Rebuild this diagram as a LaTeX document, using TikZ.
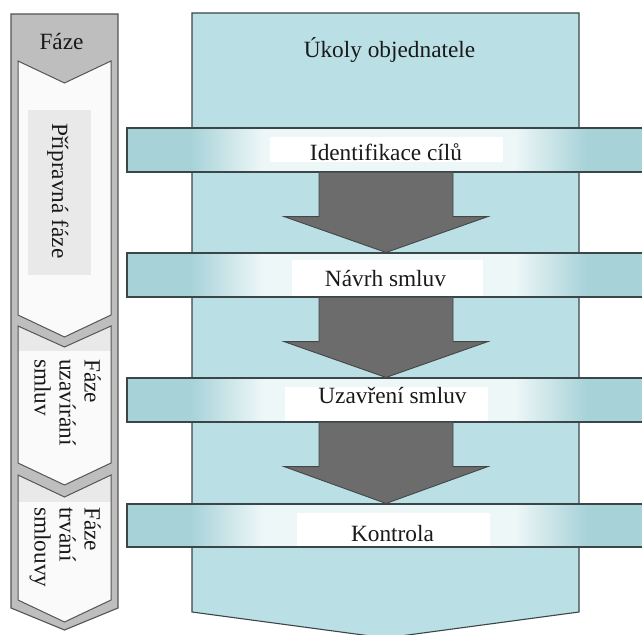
\documentclass[tikz,border=0pt]{standalone}
\usepackage{fontspec}
\setmainfont{Liberation Serif}
\usetikzlibrary{calc}
\definecolor{colfill}{RGB}{186,223,228}
\definecolor{bandteal}{RGB}{166,210,216}
\definecolor{bandlight}{RGB}{238,247,248}
\definecolor{edgecol}{RGB}{58,70,72}
\definecolor{arrfill}{RGB}{108,108,108}
\definecolor{arredge}{RGB}{70,70,70}
\definecolor{leftgray}{RGB}{190,190,190}
\definecolor{paneledge}{RGB}{85,85,85}
\definecolor{panelfill}{RGB}{250,250,250}
\definecolor{panelshade}{RGB}{233,233,233}
\definecolor{textcol}{RGB}{25,25,25}
\pgfdeclarehorizontalshading{bandshade}{100bp}{color(0bp)=(bandteal); color(31bp)=(bandteal); color(38bp)=(bandlight); color(62bp)=(bandlight); color(69bp)=(bandteal); color(100bp)=(bandteal)}
\newcommand\flowarrow[2]{%
  \draw[garrow] ($(#1.south)+(-69.5,0)$) -- ($(#1.south)+(-69.5,44)$) -- ($(#1.south)+(-104.5,44)$)
    -- ($(#2.north)+(-2.5,0)$) -- ($(#1.south)+(99.5,44)$) -- ($(#1.south)+(64.5,44)$) -- ($(#1.south)+(64.5,0)$);}
\begin{document}
\begin{tikzpicture}[x=1pt,y=-1pt,
  txt/.style={font=\fontsize{23.3}{25}\selectfont, text=textcol, inner sep=0pt},
  band/.style={draw=edgecol, line width=1.1pt, shade, shading=bandshade, minimum width=523pt, minimum height=44pt, inner sep=0pt},
  garrow/.style={fill=arrfill, draw=arredge, line width=0.9pt, line join=miter},
  colshape/.style={fill=colfill, draw=edgecol, line width=1.1pt},
  outershape/.style={fill=leftgray, draw=paneledge, line width=1.1pt},
  panel/.style={fill=panelfill, draw=paneledge, line width=1pt}
]
\useasboundingbox (0,0) rectangle (642,634);
\fill[white] (0,0) rectangle (642,634);

% main column
\draw[colshape] (192,13) -- (579,13) -- (579,612) -- (385.5,638) -- (192,612) -- cycle;
\node[txt, anchor=base] (hdr) at (389.5,57) {Úkoly objednatele};

% bands
\node[band] (b1) at (388.5,150) {};
\node[band] (b2) at (388.5,275) {};
\node[band] (b3) at (388.5,400) {};
\node[band, minimum height=43pt] (b4) at (388.5,525.5) {};

% white text boxes
\fill[white] (270,137) rectangle (503,162);
\fill[white] (292,260) rectangle (483,296);
\fill[white] (285,387) rectangle (488,421);
\fill[white] (297,513) rectangle (490,546);

\node[txt, anchor=base] (t1) at (386,160) {Identifikace cílů};
\node[txt, anchor=base] (t2) at (385.5,286) {Návrh smluv};
\node[txt, anchor=base] (t3) at (392.5,403) {Uzavření smluv};
\node[txt, anchor=base] (t4) at (392.5,541) {Kontrola};

% arrows
\flowarrow{b1}{b2}
\flowarrow{b2}{b3}
\flowarrow{b3}{b4}

% left column
\draw[outershape] (11,14) -- (118,14) -- (118,608) -- (64.5,630) -- (11,608) -- cycle;
\node[txt, anchor=base] (faze) at (61.5,49) {Fáze};

\draw[panel, path picture={\fill[panelshade] (28,110) rectangle (91,275);}]
  (18,61) -- (64.5,83) -- (111,61) -- (111,315) -- (64.5,337) -- (18,315) -- cycle;
\draw[panel, path picture={\fill[panelshade] (18,320) rectangle (111,351);}]
  (18,326) -- (64.5,347) -- (111,326) -- (111,463) -- (64.5,485) -- (18,463) -- cycle;
\draw[panel, path picture={\fill[panelshade] (18,470) rectangle (111,502);}]
  (18,475) -- (64.5,497) -- (111,475) -- (111,600) -- (64.5,622) -- (18,600) -- cycle;

\node[txt, rotate=-90, anchor=base west] (p1) at (52,123) {Přípravná fáze};
\node[txt, rotate=-90, anchor=north west, align=left] (p2) at (101,359) {Fáze\\uzavírání\\smluv};
\node[txt, rotate=-90, anchor=north west, align=left] (p3) at (101,507) {Fáze\\trvání\\smlouvy};
\end{tikzpicture}
\end{document}
